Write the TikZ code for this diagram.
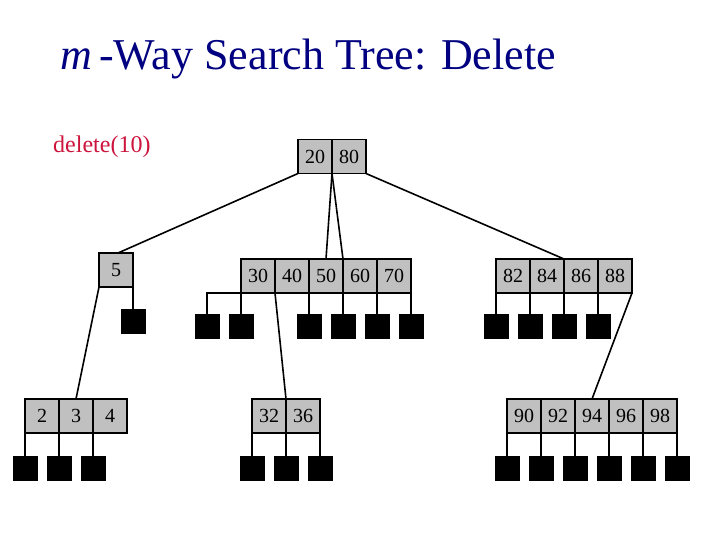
\documentclass[tikz,border=0pt]{standalone}
\usepackage{fontspec}
\setmainfont{Liberation Serif}
\definecolor{titleblue}{RGB}{0,0,128}
\definecolor{delred}{RGB}{204,20,60}
\definecolor{cellgray}{RGB}{192,192,192}
\begin{document}
\begin{tikzpicture}[x=1pt,y=-1pt,
  cell/.style={draw=black,fill=cellgray,line width=1.6pt,minimum width=34pt,minimum height=34pt,inner sep=0pt,outer sep=0pt,font=\fontsize{20}{22}\selectfont},
  leaf/.style={draw=black,fill=black,minimum width=24pt,minimum height=24pt,inner sep=0pt,outer sep=0pt},
  edge/.style={line width=1.6pt}]
\useasboundingbox (0,0) rectangle (720,540);
\node[anchor=base west,text=titleblue,font=\fontsize{44}{48}\selectfont,inner sep=0pt] (title) at (60,70) {\textit{m}\/\,-Way Search Tree: Delete};
\node[anchor=base west,text=delred,font=\fontsize{24}{26}\selectfont,inner sep=0pt] (op) at (53,153) {delete(10)};
% root
\node[cell] (r1) at (315,156.5) {20};
\node[cell] (r2) at (349,156.5) {80};
% node 5
\node[cell] (a) at (116,270) {5};
% node B
\node[cell] (B1) at (258,276) {30};
\node[cell] (B2) at (292,276) {40};
\node[cell] (B3) at (326,276) {50};
\node[cell] (B4) at (360,276) {60};
\node[cell] (B5) at (394,276) {70};
% node C
\node[cell] (C1) at (513,276) {82};
\node[cell] (C2) at (547,276) {84};
\node[cell] (C3) at (581,276) {86};
\node[cell] (C4) at (615,276) {88};
% node D
\node[cell] (D1) at (42,416) {2};
\node[cell] (D2) at (76,416) {3};
\node[cell] (D3) at (110,416) {4};
% node E
\node[cell] (E1) at (269,416) {32};
\node[cell] (E2) at (303,416) {36};
% node F
\node[cell] (F1) at (524,416) {90};
\node[cell] (F2) at (558,416) {92};
\node[cell] (F3) at (592,416) {94};
\node[cell] (F4) at (626,416) {96};
\node[cell] (F5) at (660,416) {98};
% leaves level 2
\node[leaf] (la) at (133,321) {};
\node[leaf] (lb1) at (207,326) {};
\node[leaf] (lb2) at (241,326) {};
\node[leaf] (lb3) at (309,326) {};
\node[leaf] (lb4) at (343,326) {};
\node[leaf] (lb5) at (377,326) {};
\node[leaf] (lb6) at (411,326) {};
\node[leaf] (lc1) at (496,326) {};
\node[leaf] (lc2) at (530,326) {};
\node[leaf] (lc3) at (564,326) {};
\node[leaf] (lc4) at (598,326) {};
% leaves level 3
\node[leaf] (ld1) at (25,468) {};
\node[leaf] (ld2) at (59,468) {};
\node[leaf] (ld3) at (93,468) {};
\node[leaf] (le1) at (252,468) {};
\node[leaf] (le2) at (286,468) {};
\node[leaf] (le3) at (320,468) {};
\node[leaf] (lf1) at (507,468) {};
\node[leaf] (lf2) at (541,468) {};
\node[leaf] (lf3) at (575,468) {};
\node[leaf] (lf4) at (609,468) {};
\node[leaf] (lf5) at (643,468) {};
\node[leaf] (lf6) at (677,468) {};
% root edges
\draw[edge] (r1.south west) -- ([xshift=2pt]a.north);
\draw[edge] (r1.south east) -- (B3.north);
\draw[edge] (r1.south east) -- (B3.north east);
\draw[edge] (r2.south east) -- (C3.north west);
% node 5 edges
\draw[edge] (a.south west) -- (D2.north);
\draw[edge] (a.south east) -- (a.south east |- la.north);
% node B edges
\draw[edge] (B1.south west) -| (lb1.north);
\draw[edge] (B1.south west) -- (B1.south west |- lb2.north);
\draw[edge] (B1.south east) -- (E1.north east);
\draw[edge] (B3.south west) -- (B3.south west |- lb3.north);
\draw[edge] (B4.south west) -- (B4.south west |- lb4.north);
\draw[edge] (B5.south west) -- (B5.south west |- lb5.north);
\draw[edge] (B5.south east) -- (B5.south east |- lb6.north);
% node C edges
\draw[edge] (C1.south west) -- (C1.south west |- lc1.north);
\draw[edge] (C2.south west) -- (C2.south west |- lc2.north);
\draw[edge] (C3.south west) -- (C3.south west |- lc3.north);
\draw[edge] (C4.south west) -- (C4.south west |- lc4.north);
\draw[edge] (C4.south east) -- (F3.north);
% node D edges
\draw[edge] (D1.south west) -- (D1.south west |- ld1.north);
\draw[edge] (D1.south east) -- (D1.south east |- ld2.north);
\draw[edge] (D2.south east) -- (D2.south east |- ld3.north);
% node E edges
\draw[edge] (E1.south west) -- (E1.south west |- le1.north);
\draw[edge] (E1.south east) -- (E1.south east |- le2.north);
\draw[edge] (E2.south east) -- (E2.south east |- le3.north);
% node F edges
\draw[edge] (F1.south west) -- (F1.south west |- lf1.north);
\draw[edge] (F2.south west) -- (F2.south west |- lf2.north);
\draw[edge] (F3.south west) -- (F3.south west |- lf3.north);
\draw[edge] (F4.south west) -- (F4.south west |- lf4.north);
\draw[edge] (F5.south west) -- (F5.south west |- lf5.north);
\draw[edge] (F5.south east) -- (F5.south east |- lf6.north);
\end{tikzpicture}
\end{document}
